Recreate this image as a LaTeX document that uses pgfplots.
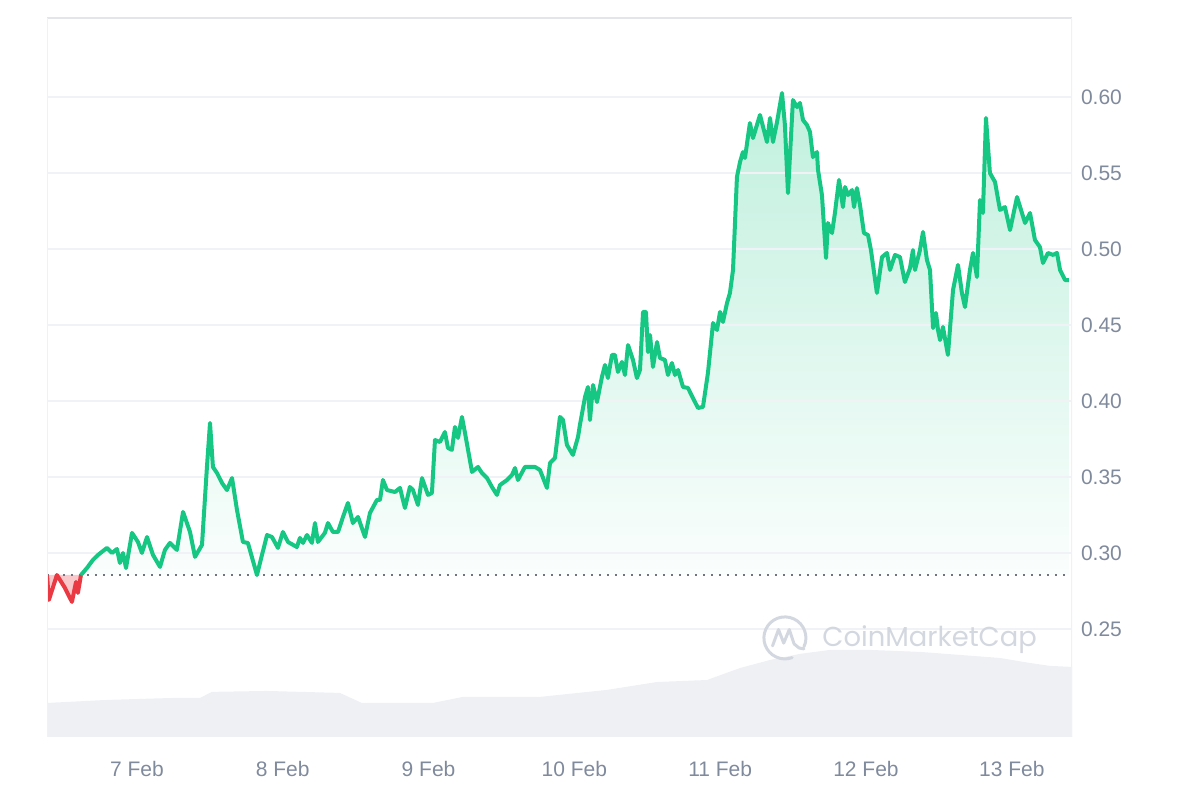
\documentclass[border=0pt]{standalone}
\usepackage{pgfplots}
\usepackage{pgfplotstable}
\pgfplotsset{compat=1.18}
\usepgfplotslibrary{fillbetween}
\usepackage{fontspec}
\setmainfont{Liberation Sans}
\newfontfamily\wmfont{Poppins}
\definecolor{cmcgreen}{HTML}{16C784}
\definecolor{cmcred}{HTML}{EA3943}
\definecolor{labelgray}{HTML}{808A9D}
\definecolor{gridgray}{HTML}{F0F2F5}
\definecolor{volgray}{HTML}{EEF0F4}
\definecolor{framegray}{HTML}{E3E5E8}
\definecolor{sidegray}{HTML}{F0F1F3}
\definecolor{wmgray}{HTML}{D3D7DF}
\definecolor{dotgray}{HTML}{6F7480}

\pgfplotstableread[row sep=\\]{
d v\\
6.383 0.2855\\ 6.396 0.2691\\ 6.451 0.2855\\ 6.506 0.2770\\ 6.554 0.2678\\
6.582 0.2809\\ 6.595 0.2737\\ 6.616 0.2855\\
}\reddata

\pgfplotstableread[row sep=\\]{
d v\\
6.616 0.2855\\ 6.657 0.2901\\ 6.698 0.2954\\ 6.733 0.2987\\ 6.794 0.3033\\
6.829 0.3000\\ 6.863 0.3026\\ 6.883 0.2934\\ 6.904 0.3000\\ 6.925 0.2901\\
6.966 0.3132\\ 7.007 0.3072\\ 7.034 0.3000\\ 7.069 0.3105\\ 7.110 0.2987\\
7.158 0.2908\\ 7.192 0.3020\\ 7.226 0.3066\\ 7.274 0.3020\\ 7.316 0.3270\\
7.364 0.3138\\ 7.398 0.2974\\ 7.446 0.3053\\ 7.480 0.3566\\ 7.501 0.3855\\
7.521 0.3566\\ 7.549 0.3526\\ 7.583 0.3461\\ 7.617 0.3414\\ 7.652 0.3493\\
7.686 0.3283\\ 7.727 0.3072\\ 7.761 0.3066\\ 7.823 0.2855\\ 7.892 0.3118\\
7.926 0.3105\\ 7.967 0.3033\\ 8.001 0.3138\\ 8.036 0.3072\\ 8.097 0.3039\\
8.118 0.3099\\ 8.139 0.3066\\ 8.166 0.3118\\ 8.200 0.3066\\ 8.221 0.3197\\
8.241 0.3072\\ 8.289 0.3132\\ 8.310 0.3197\\ 8.344 0.3138\\ 8.379 0.3138\\
8.413 0.3237\\ 8.447 0.3329\\ 8.481 0.3197\\ 8.516 0.3237\\ 8.564 0.3105\\
8.598 0.3263\\ 8.646 0.3349\\ 8.667 0.3349\\ 8.687 0.3480\\ 8.715 0.3414\\
8.770 0.3401\\ 8.804 0.3428\\ 8.838 0.3296\\ 8.872 0.3434\\ 8.893 0.3414\\
8.927 0.3316\\ 8.955 0.3493\\ 8.996 0.3382\\ 9.023 0.3395\\ 9.044 0.3743\\
9.078 0.3730\\ 9.112 0.3796\\ 9.133 0.3691\\ 9.160 0.3678\\ 9.181 0.3829\\
9.202 0.3757\\ 9.229 0.3895\\ 9.250 0.3789\\ 9.298 0.3533\\ 9.339 0.3566\\
9.366 0.3526\\ 9.401 0.3493\\ 9.435 0.3434\\ 9.469 0.3382\\ 9.490 0.3447\\
9.538 0.3480\\ 9.572 0.3513\\ 9.593 0.3559\\ 9.613 0.3480\\ 9.661 0.3566\\
9.695 0.3566\\ 9.730 0.3566\\ 9.764 0.3546\\ 9.812 0.3428\\ 9.833 0.3592\\
9.867 0.3625\\ 9.901 0.3895\\ 9.922 0.3875\\ 9.949 0.3711\\ 9.990 0.3645\\
10.025 0.3763\\ 10.038 0.3842\\ 10.073 0.4026\\ 10.093 0.4092\\ 10.107 0.3875\\
10.128 0.4105\\ 10.155 0.3993\\ 10.189 0.4158\\ 10.210 0.4237\\ 10.230 0.4151\\
10.258 0.4303\\ 10.278 0.4303\\ 10.299 0.4191\\ 10.326 0.4257\\ 10.347 0.4171\\
10.368 0.4368\\ 10.402 0.4270\\ 10.429 0.4151\\ 10.450 0.4204\\ 10.471 0.4586\\
10.491 0.4586\\ 10.505 0.4322\\ 10.519 0.4434\\ 10.539 0.4224\\ 10.567 0.4388\\
10.587 0.4283\\ 10.621 0.4270\\ 10.642 0.4171\\ 10.669 0.4250\\ 10.690 0.4171\\
10.711 0.4204\\ 10.745 0.4092\\ 10.779 0.4086\\ 10.813 0.4020\\ 10.848 0.3954\\
10.882 0.3961\\ 10.916 0.4184\\ 10.951 0.4513\\ 10.978 0.4467\\ 10.999 0.4586\\
11.019 0.4520\\ 11.047 0.4645\\ 11.067 0.4711\\ 11.088 0.4862\\ 11.115 0.5474\\
11.136 0.5572\\ 11.156 0.5638\\ 11.170 0.5599\\ 11.204 0.5829\\ 11.225 0.5730\\
11.273 0.5882\\ 11.321 0.5704\\ 11.342 0.5862\\ 11.362 0.5704\\ 11.390 0.5836\\
11.424 0.6026\\ 11.444 0.5816\\ 11.465 0.5368\\ 11.499 0.5980\\ 11.527 0.5934\\
11.547 0.5961\\ 11.568 0.5849\\ 11.595 0.5816\\ 11.616 0.5770\\ 11.636 0.5605\\
11.664 0.5638\\ 11.671 0.5520\\ 11.698 0.5355\\ 11.726 0.4941\\ 11.739 0.5171\\
11.767 0.5105\\ 11.787 0.5237\\ 11.815 0.5454\\ 11.842 0.5276\\ 11.856 0.5408\\
11.877 0.5355\\ 11.904 0.5388\\ 11.918 0.5276\\ 11.938 0.5401\\ 11.959 0.5289\\
11.986 0.5105\\ 12.014 0.5092\\ 12.034 0.4993\\ 12.075 0.4711\\ 12.110 0.4947\\
12.144 0.4974\\ 12.165 0.4862\\ 12.199 0.4961\\ 12.233 0.4947\\ 12.267 0.4783\\
12.302 0.4875\\ 12.322 0.4993\\ 12.336 0.4862\\ 12.370 0.4993\\ 12.391 0.5112\\
12.418 0.4928\\ 12.439 0.4862\\ 12.460 0.4480\\ 12.480 0.4579\\ 12.494 0.4467\\
12.508 0.4401\\ 12.528 0.4487\\ 12.562 0.4303\\ 12.597 0.4730\\ 12.631 0.4895\\
12.658 0.4711\\ 12.679 0.4618\\ 12.713 0.4862\\ 12.734 0.4974\\ 12.761 0.4816\\
12.782 0.5322\\ 12.802 0.5237\\ 12.823 0.5862\\ 12.850 0.5500\\ 12.885 0.5441\\
12.919 0.5257\\ 12.953 0.5276\\ 12.988 0.5125\\ 13.036 0.5342\\ 13.091 0.5171\\
13.125 0.5237\\ 13.159 0.5059\\ 13.193 0.5013\\ 13.214 0.4908\\ 13.248 0.4974\\
13.283 0.4961\\ 13.310 0.4974\\ 13.331 0.4862\\ 13.365 0.4796\\ 13.392 0.4796\\
}\greendata

\pgfplotstableread[row sep=\\]{
d v\\
6.383 0.2013\\ 6.794 0.2033\\ 7.247 0.2046\\ 7.432 0.2046\\ 7.514 0.2086\\
7.892 0.2092\\ 8.392 0.2079\\ 8.543 0.2013\\ 9.030 0.2013\\ 9.236 0.2053\\
9.764 0.2053\\ 10.224 0.2099\\ 10.567 0.2151\\ 10.909 0.2164\\ 11.136 0.2243\\
11.342 0.2296\\ 11.547 0.2336\\ 11.753 0.2362\\ 12.027 0.2362\\ 12.370 0.2349\\
12.645 0.2329\\ 12.919 0.2309\\ 13.125 0.2276\\ 13.262 0.2257\\ 13.413 0.2250\\
}\voldata

\begin{document}
\begin{tikzpicture}
\path (0,0) rectangle (600bp,400bp);
\begin{axis}[
  at={(23.5bp,31.5bp)}, anchor=south west,
  scale only axis, width=512.5bp, height=359.5bp,
  xmin=6.383, xmax=13.413, ymin=0.1789, ymax=0.652,
  axis line style={draw=none},
  tick style={draw=none},
  xtick={7,8,9,10,11,12,13},
  xticklabels={7 Feb,8 Feb,9 Feb,10 Feb,11 Feb,12 Feb,13 Feb},
  ytick={0.25,0.3,0.35,0.4,0.45,0.5,0.55,0.6},
  yticklabel pos=right,
  ticklabel style={font=\fontsize{10.5bp}{12bp}\selectfont, text=labelgray},
  xticklabel style={yshift=-8.5bp},
  yticklabel style={anchor=west, xshift=1bp,
    /pgf/number format/fixed, /pgf/number format/fixed zerofill,
    /pgf/number format/precision=2, /pgf/number format/assume math mode=true},
]
% volume
\addplot[fill=volgray, draw=none] table[x=d,y=v] {\voldata} \closedcycle;

% green area
\addplot[name path=gline, draw=none, forget plot] table[x=d,y=v] {\greendata};
\addplot[name path=gbase, draw=none, forget plot] coordinates {(6.616,0.2855) (13.392,0.2855)};
\addplot[top color=cmcgreen!27!white, bottom color=cmcgreen!2!white, draw=none] fill between[of=gline and gbase];

% red area
\addplot[name path=rline, draw=none, forget plot] table[x=d,y=v] {\reddata};
\addplot[name path=rbase, draw=none, forget plot] coordinates {(6.383,0.2855) (6.616,0.2855)};
\addplot[fill=cmcred!28!white, draw=none] fill between[of=rline and rbase];

% grid lines
\addplot[gridgray, line width=0.7bp] coordinates {(6.383,0.25) (13.413,0.25)};
\addplot[gridgray, line width=0.7bp] coordinates {(6.383,0.30) (13.413,0.30)};
\addplot[gridgray, line width=0.7bp] coordinates {(6.383,0.35) (13.413,0.35)};
\addplot[gridgray, line width=0.7bp] coordinates {(6.383,0.40) (13.413,0.40)};
\addplot[gridgray, line width=0.7bp] coordinates {(6.383,0.45) (13.413,0.45)};
\addplot[gridgray, line width=0.7bp] coordinates {(6.383,0.50) (13.413,0.50)};
\addplot[gridgray, line width=0.7bp] coordinates {(6.383,0.55) (13.413,0.55)};
\addplot[gridgray, line width=0.7bp] coordinates {(6.383,0.60) (13.413,0.60)};

% baseline
\addplot[dotgray, line width=0.9bp, dash pattern=on 0.9bp off 3.1bp] coordinates {(6.383,0.2855) (13.413,0.2855)};

% lines
\addplot[cmcred, line width=2bp, line join=round] table[x=d,y=v] {\reddata};
\addplot[cmcgreen, line width=2bp, line join=round] table[x=d,y=v] {\greendata};

% frame
\draw[framegray, line width=1bp] (rel axis cs:0,1) -- (rel axis cs:1,1);
\draw[sidegray, line width=0.8bp] (rel axis cs:0,0) -- (rel axis cs:0,1);
\draw[sidegray, line width=0.8bp] (rel axis cs:1,0) -- (rel axis cs:1,1);

% watermark
\coordinate (logo) at (axis cs:11.444,0.2441);
\node[anchor=west, inner sep=0pt, text=wmgray, font=\wmfont\fontsize{13.7bp}{16bp}\selectfont] at (axis cs:11.698,0.2430) {CoinMarketCap};
\end{axis}
\begin{scope}[shift={(logo)}, wmgray, line width=1.5bp, line cap=round, line join=round]
\draw (-25:10.5bp) arc[start angle=-25, end angle=290, radius=10.5bp];
\draw (-6.2bp,-4bp) -- (-3.2bp,4.2bp) -- (-0.6bp,-2.6bp) -- (2.2bp,4.2bp) -- (4.6bp,-3bp) -- (7bp,-5bp) -- (9.5bp,-5.5bp);
\end{scope}
\end{tikzpicture}
\end{document}
